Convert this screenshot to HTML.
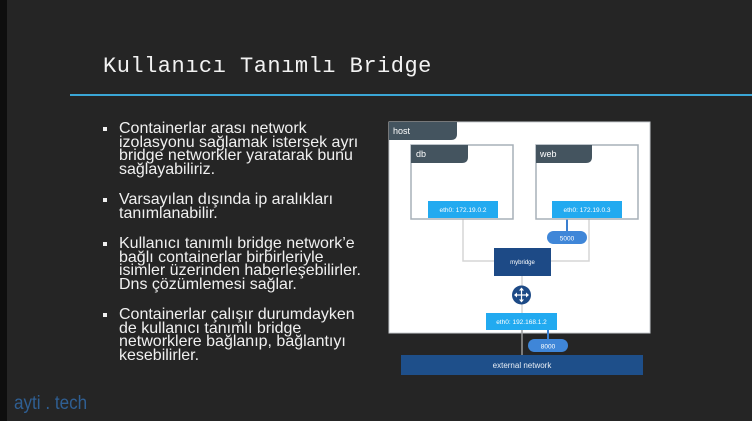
<!DOCTYPE html>
<html><head><meta charset="utf-8">
<style>
html,body{margin:0;padding:0}
body{width:752px;height:421px;position:relative;overflow:hidden;background:#252525;font-family:"Liberation Sans",sans-serif}
.edge{position:absolute;left:0;top:0;width:7px;height:421px;background:#0e0e0e}
.title{position:absolute;left:103px;top:54px;font-family:"Liberation Mono",monospace;font-size:22px;color:#f2f2f2;letter-spacing:0.5px}
.line{position:absolute;left:70px;top:94px;width:682px;height:2px;background:#3aa6d6}
ul{position:absolute;left:102px;top:122px;margin:0;padding:0;list-style:none;color:#f0f0f0;font-size:16px;line-height:13.5px;white-space:nowrap}
li{position:relative;padding-left:17px;margin-bottom:17px}
li:before{content:"";position:absolute;left:1px;top:5px;width:4px;height:4px;background:#f0f0f0}
.logo{position:absolute;left:14px;top:393px;font-size:19px;color:#2f5f93;font-family:"Liberation Sans Narrow","Liberation Sans",sans-serif;transform:scaleX(0.9);transform-origin:left}
svg{position:absolute;left:0;top:0}
</style></head><body>
<div class="edge"></div>
<div class="title">Kullanıcı Tanımlı Bridge</div>
<div class="line"></div>
<ul>
<li>Containerlar arası network<br>izolasyonu sağlamak istersek ayrı<br>bridge networkler yaratarak bunu<br>sağlayabiliriz.</li>
<li>Varsayılan dışında ip aralıkları<br>tanımlanabilir.</li>
<li>Kullanıcı tanımlı bridge network’e<br>bağlı containerlar birbirleriyle<br>isimler üzerinden haberleşebilirler.<br>Dns çözümlemesi sağlar.</li>
<li>Containerlar çalışır durumdayken<br>de kullanıcı tanımlı bridge<br>networklere bağlanıp, bağlantıyı<br>kesebilirler.</li>
</ul>
<div class="logo">ayti . tech</div>
<svg width="752" height="421" font-family="Liberation Sans, sans-serif">
<rect x="389" y="122" width="261" height="211" fill="#fff" stroke="#c8ccd0"/>
<path d="M389 122 H457 V134 Q457 140 451 140 H389 Z" fill="#44545f"/>
<text x="393" y="134" font-size="9" fill="#fff">host</text>
<polyline points="463,219 463,261 494,261" fill="none" stroke="#d5d5d5" stroke-width="1.5"/>
<polyline points="589,219 589,261 551,261" fill="none" stroke="#d5d5d5" stroke-width="1.5"/>
<line x1="522" y1="276" x2="522" y2="313" stroke="#d5d5d5" stroke-width="1.5"/>
<line x1="522" y1="330" x2="522" y2="355" stroke="#9a9a9a" stroke-width="1.5"/>
<line x1="567" y1="217" x2="567" y2="232" stroke="#3a7fd0" stroke-width="2"/>
<line x1="548" y1="330" x2="548" y2="339" stroke="#3a7fd0" stroke-width="2"/>
<rect x="411" y="145" width="102" height="74" fill="#fff" stroke="#a7b0b8" stroke-width="1.5"/>
<path d="M411 145 H468 V157 Q468 163 462 163 H411 Z" fill="#44545f"/>
<text x="416" y="157" font-size="9" fill="#fff">db</text>
<rect x="428" y="201" width="70" height="17" fill="#22aaf0"/>
<text x="463" y="212" font-size="6.5" fill="#fff" text-anchor="middle">eth0: 172.19.0.2</text>
<rect x="536" y="145" width="102" height="74" fill="#fff" stroke="#a7b0b8" stroke-width="1.5"/>
<path d="M536 145 H592 V157 Q592 163 586 163 H536 Z" fill="#44545f"/>
<text x="540" y="157" font-size="9" fill="#fff">web</text>
<rect x="552" y="201" width="70" height="17" fill="#22aaf0"/>
<text x="587" y="212" font-size="6.5" fill="#fff" text-anchor="middle">eth0: 172.19.0.3</text>
<rect x="547" y="231" width="40" height="13" rx="6.5" fill="#3f86d8"/>
<text x="567" y="240.5" font-size="6.5" fill="#fff" text-anchor="middle">5000</text>
<rect x="494" y="248" width="57" height="28" fill="#1d4a86"/>
<text x="522.5" y="264" font-size="6" fill="#fff" text-anchor="middle">mybridge</text>
<circle cx="521.5" cy="295" r="9.5" fill="#1d4a86"/>
<g stroke="#fff" stroke-width="1.2">
<line x1="521.5" y1="289" x2="521.5" y2="301"/><line x1="515.5" y1="295" x2="527.5" y2="295"/>
</g>
<g fill="#fff">
<path d="M521.5 287.5 l-2.5 3 h5z"/><path d="M521.5 302.5 l-2.5 -3 h5z"/>
<path d="M514 295 l3 -2.5 v5z"/><path d="M529 295 l-3 -2.5 v5z"/>
</g>
<rect x="486" y="313" width="71" height="17" fill="#22aaf0"/>
<text x="521.5" y="324" font-size="6.5" fill="#fff" text-anchor="middle">eth0: 192.168.1.2</text>
<rect x="528" y="339" width="40" height="13" rx="6.5" fill="#3f86d8"/>
<text x="548" y="348.5" font-size="6.5" fill="#fff" text-anchor="middle">8000</text>
<rect x="401" y="355" width="242" height="20" fill="#1e4f8a"/>
<text x="522" y="368" font-size="8" fill="#e8eef5" text-anchor="middle">external network</text>
</svg>
</body></html>
